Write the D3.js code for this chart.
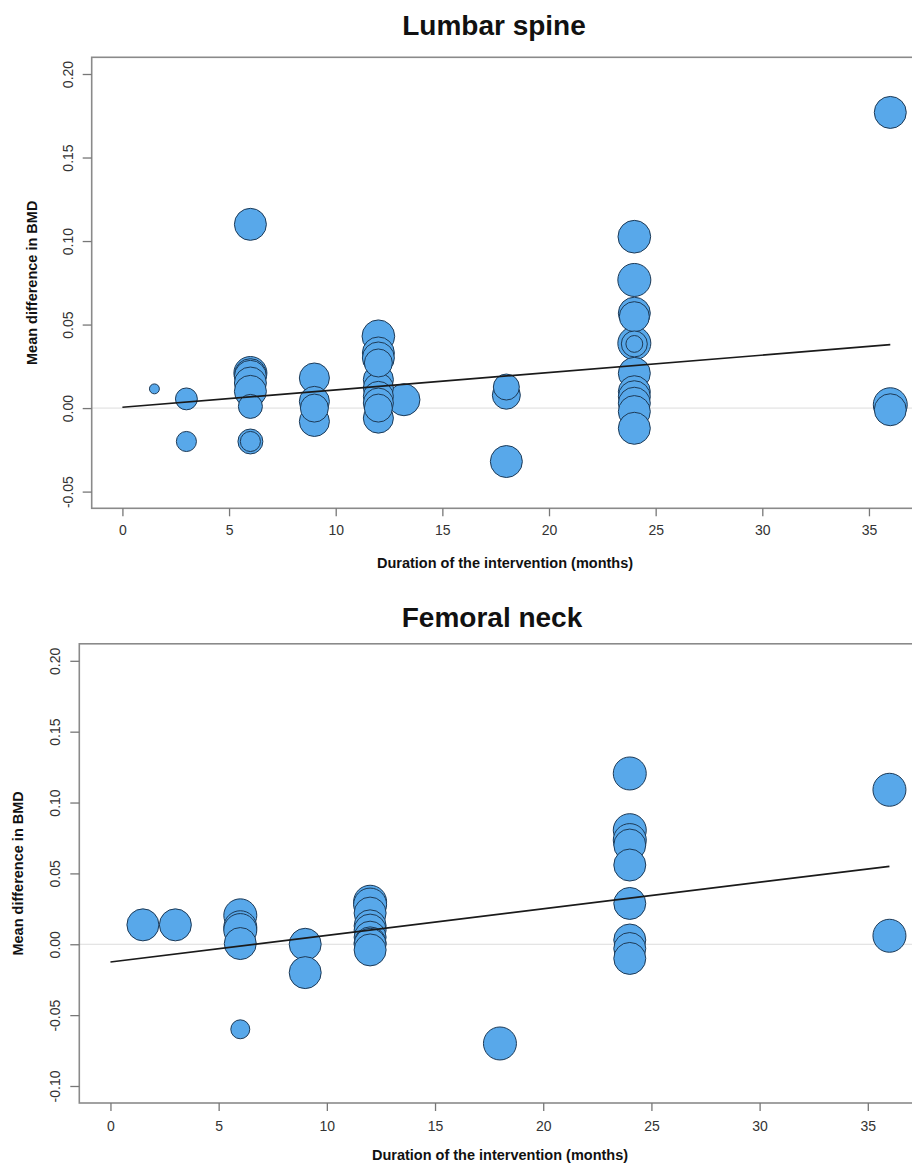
<!DOCTYPE html>
<html>
<head>
<meta charset="utf-8">
<script src="https://cdn.jsdelivr.net/npm/d3@7"></script>
<style>
  body { margin: 0; background: #fff; }
  svg { display: block; font-family: "Liberation Sans", Arial, Helvetica, sans-serif; }
</style>
</head>
<body>
<script>
// Lumbar spine: months, mean difference, relative weight
var lumbarMonths = [1.5, 3, 3,
  6, 6, 6, 6, 6, 6, 6, 6, 6,
  9, 9, 9, 9,
  12, 12, 12, 12, 12, 12, 12, 12, 12, 12,
  13.2,
  18, 18, 18,
  24, 24, 24, 24, 24, 24, 24, 24, 24, 24, 24, 24, 24,
  36, 36, 36];
var lumbarMD = [0.0115, 0.0055, -0.020,
  0.110, 0.021, 0.020, 0.019, 0.015, 0.010, 0.001, -0.020, -0.020,
  0.018, 0.004, 0.000, -0.008,
  0.043, 0.033, 0.030, 0.027, 0.017, 0.012, 0.007, 0.003, 0.000, -0.006,
  0.005,
  0.0126, 0.0077, -0.032,
  0.1026, 0.0767, 0.0568, 0.0547, 0.0388, 0.0384, 0.0384, 0.0208, 0.0098, 0.0068, 0.0029, -0.0021, -0.0121,
  0.177, 0.002, -0.001];
var lumbarWeight = [9, 44, 37,
  94, 100, 94, 94, 94, 94, 53, 57, 37,
  83, 83, 72, 83,
  98, 94, 94, 72, 83, 83, 83, 83, 72, 83,
  94,
  62, 72, 94,
  98, 100, 94, 83, 100, 62, 26, 94, 94, 94, 94, 94, 94,
  94, 106, 94];
var lumbarFit = [0.0005, 0.00104]; // intercept, slope

// Femoral neck
var femoralMonths = [1.5, 3,
  6, 6, 6, 6, 6,
  9, 9,
  12, 12, 12, 12, 12, 12, 12, 12, 12,
  18,
  24, 24, 24, 24, 24, 24, 24, 24, 24,
  36, 36];
var femoralMD = [0.0137, 0.0137,
  0.0204, 0.012, 0.010, 0.0005, -0.060,
  0.000, -0.020,
  0.030, 0.028, 0.022, 0.013, 0.010, 0.005, 0.001, 0.000, -0.004,
  -0.070,
  0.1205, 0.0805, 0.0735, 0.070, 0.0559, 0.0288, 0.003, -0.003, -0.010,
  0.109, 0.006];
var femoralWeight = [94, 94,
  100, 100, 100, 94, 33,
  94, 94,
  100, 100, 94, 94, 94, 94, 94, 94, 94,
  100,
  100, 100, 100, 94, 94, 94, 94, 94, 94,
  100, 100];
var femoralFit = [-0.0125, 0.001875];

var xTicks = [0, 5, 10, 15, 20, 25, 30, 35];
var lumbarYTicks = [-0.05, 0.00, 0.05, 0.10, 0.15, 0.20];
var femoralYTicks = [-0.10, -0.05, 0.00, 0.05, 0.10, 0.15, 0.20];
var fitRange = [0, 36];

var width = 912, height = 1165;
var svg = d3.select('body').append('svg')
  .attr('width', width)
  .attr('height', height);

var rScale = d3.scaleSqrt().domain([0, 100]).range([0, 16.5]);

function drawPanel(opts) {
  var x = d3.scaleLinear().domain([-1.44, 37.44]).range([opts.left, opts.right]);
  var y = d3.scaleLinear().domain(opts.yDomain).range([opts.bottom, opts.top]);
  var g = svg.append('g');

  // zero reference line
  g.append('line')
    .attr('x1', opts.left).attr('x2', opts.right)
    .attr('y1', y(0)).attr('y2', y(0))
    .attr('stroke', '#dcdcdc').attr('stroke-width', 1);

  // bubbles, large first so the small ones stay visible
  var pts = opts.months.map(function(m, i) {
    return {m: m, v: opts.md[i], w: opts.weight[i]};
  });
  pts.sort(function(a, b) { return b.w - a.w; });
  g.selectAll('circle.pt')
    .data(pts)
    .enter().append('circle')
    .attr('class', 'pt')
    .attr('cx', function(d) { return x(d.m); })
    .attr('cy', function(d) { return y(d.v); })
    .attr('r', function(d) { return rScale(d.w); })
    .attr('fill', '#58a8ea')
    .attr('stroke', '#1d3a57')
    .attr('stroke-width', 1);

  // meta-regression line
  var line = d3.line()
    .x(function(d) { return x(d); })
    .y(function(d) { return y(opts.fit[0] + opts.fit[1] * d); });
  g.append('path')
    .datum(fitRange)
    .attr('d', line)
    .attr('fill', 'none')
    .attr('stroke', '#1a1a1a')
    .attr('stroke-width', 1.7);

  // box
  g.append('rect')
    .attr('x', opts.left).attr('y', opts.top)
    .attr('width', opts.right - opts.left)
    .attr('height', opts.bottom - opts.top)
    .attr('fill', 'none')
    .attr('stroke', '#8a8a8a')
    .attr('stroke-width', 1.6);

  // x axis
  var xa = g.append('g')
    .attr('transform', 'translate(0,' + opts.bottom + ')')
    .call(d3.axisBottom(x).tickValues(xTicks).tickSize(8).tickFormat(d3.format('d')));
  xa.select('.domain').remove();
  xa.selectAll('.tick line').attr('stroke', '#777').attr('stroke-width', 1.3);
  xa.selectAll('.tick text')
    .attr('y', opts.xLabelY).attr('dy', null)
    .attr('fill', '#333').attr('font-size', 14)
    .attr('font-family', '"Liberation Sans", Arial, sans-serif');

  // y axis (plain hyphen minus, as in the original)
  var ya = g.append('g')
    .attr('transform', 'translate(' + opts.left + ',0)')
    .call(d3.axisLeft(y).tickValues(opts.yTicks).tickSize(9)
      .tickFormat(function(d) { return d.toFixed(2); }));
  ya.select('.domain').remove();
  ya.selectAll('.tick line').attr('stroke', '#777').attr('stroke-width', 1.3);
  ya.selectAll('.tick text')
    .attr('x', null).attr('dy', null)
    .attr('text-anchor', 'middle')
    .attr('transform', 'translate(-19,0) rotate(-90)')
    .attr('fill', '#333').attr('font-size', 14)
    .attr('font-family', '"Liberation Sans", Arial, sans-serif');

  // titles
  svg.append('text')
    .attr('x', opts.titleX).attr('y', opts.titleY)
    .attr('text-anchor', 'middle')
    .attr('font-size', 28).attr('font-weight', 'bold')
    .attr('fill', '#111')
    .text(opts.title);

  svg.append('text')
    .attr('x', opts.xTitleX).attr('y', opts.xTitleY)
    .attr('text-anchor', 'middle')
    .attr('font-size', 14.5).attr('font-weight', 'bold')
    .attr('fill', '#111')
    .text('Duration of the intervention (months)');

  svg.append('text')
    .attr('transform', 'translate(' + opts.yTitleX + ',' + ((opts.top + opts.bottom) / 2) + ') rotate(-90)')
    .attr('text-anchor', 'middle')
    .attr('font-size', 14.5).attr('font-weight', 'bold')
    .attr('fill', '#111')
    .text('Mean difference in BMD');
}

drawPanel({
  months: lumbarMonths, md: lumbarMD, weight: lumbarWeight, fit: lumbarFit,
  yDomain: [-0.06, 0.21], yTicks: lumbarYTicks,
  left: 91.7, right: 921, top: 57.3, bottom: 508.3,
  xLabelY: 27,
  title: 'Lumbar spine', titleX: 494, titleY: 35,
  xTitleX: 505, xTitleY: 568, yTitleX: 37
});

drawPanel({
  months: femoralMonths, md: femoralMD, weight: femoralWeight, fit: femoralFit,
  yDomain: [-0.112, 0.212], yTicks: femoralYTicks,
  left: 79.3, right: 920.6, top: 643.8, bottom: 1103,
  xLabelY: 28,
  title: 'Femoral neck', titleX: 492, titleY: 626.5,
  xTitleX: 500, xTitleY: 1160, yTitleX: 23
});
</script>
</body>
</html>
